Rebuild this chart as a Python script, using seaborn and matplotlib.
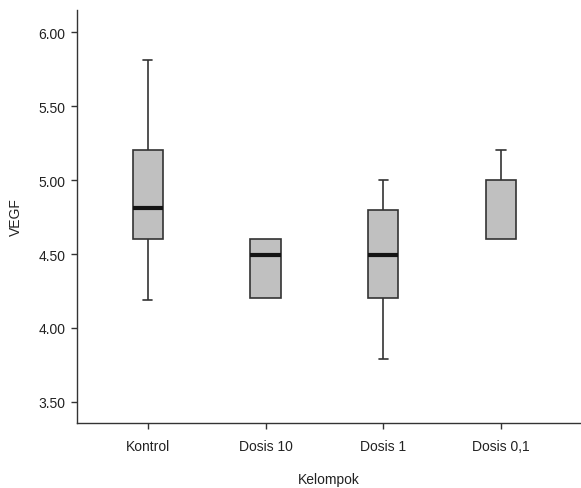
import numpy as np
import pandas as pd
import matplotlib
matplotlib.use("Agg")
import matplotlib.pyplot as plt
import seaborn as sns

# five-number summaries (min, Q1, median, Q3, max)
groups = ["Kontrol", "Dosis 10", "Dosis 1", "Dosis 0,1"]
kontrol = [4.19, 4.60, 4.81, 5.20, 5.81]
dosis_10 = [4.20, 4.20, 4.49, 4.60, 4.60]
dosis_1 = [3.79, 4.20, 4.49, 4.80, 5.00]
dosis_01 = [4.60, 4.60, 4.60, 5.00, 5.20]

df = pd.DataFrame({
    "Kelompok": np.repeat(groups, 5),
    "VEGF": kontrol + dosis_10 + dosis_1 + dosis_01,
})

sns.set_style("ticks")
plt.rcParams["font.family"] = ["Liberation Sans", "DejaVu Sans"]
text_col = "#222222"

fig = plt.figure(figsize=(5.81, 4.89), dpi=100)
ax = fig.add_axes([0.1325, 0.133, 0.866, 0.845])

sns.boxplot(data=df, x="Kelompok", y="VEGF", order=groups, ax=ax,
            whis=np.inf, width=0.255, color="#c0c0c0", saturation=1,
            linecolor="#333333", linewidth=1.2, capwidths=0.08,
            medianprops={"color": "#141414", "linewidth": 3.0},
            showfliers=False)

# median of the last group coincides with Q1 and is not drawn thick
meds = [l for l in ax.lines if l.get_linewidth() == 3.0]
if len(meds) == 4:
    meds[3].set_linewidth(1.2)
    meds[3].set_color("#333333")

# zero-length whiskers: hide them and their caps
segs = [l for l in ax.lines if len(l.get_xdata()) == 2]
empty = []
for l in segs:
    x, y = l.get_xdata(), l.get_ydata()
    if x[0] == x[1] and y[0] == y[1]:
        l.set_visible(False)
        empty.append((x[0], y[0]))
for l in segs:
    x, y = l.get_xdata(), l.get_ydata()
    if y[0] == y[1] and x[0] != x[1]:
        xc = (x[0] + x[1]) / 2
        for ex, ey in empty:
            if abs(xc - ex) < 1e-6 and abs(y[0] - ey) < 1e-9:
                l.set_visible(False)

ax.set_xlim(-0.60, 3.67)
ax.set_ylim(3.358, 6.151)
ax.set_yticks([3.5, 4.0, 4.5, 5.0, 5.5, 6.0])
ax.set_yticklabels([f"{v:.2f}" for v in [3.5, 4.0, 4.5, 5.0, 5.5, 6.0]])

ax.set_xlabel("Kelompok", fontsize=10, color=text_col, labelpad=14)
ax.set_ylabel("VEGF", fontsize=10, color=text_col, labelpad=11)
ax.tick_params(axis="both", labelsize=10, colors="#333333", labelcolor=text_col,
               length=4.5, width=1.0)
ax.tick_params(axis="x", pad=7)
ax.tick_params(axis="y", pad=4)

for side in ["top", "right"]:
    ax.spines[side].set_visible(False)
for side in ["left", "bottom"]:
    ax.spines[side].set_color("#333333")
    ax.spines[side].set_linewidth(1.0)

fig.savefig("out.png", dpi=100)
